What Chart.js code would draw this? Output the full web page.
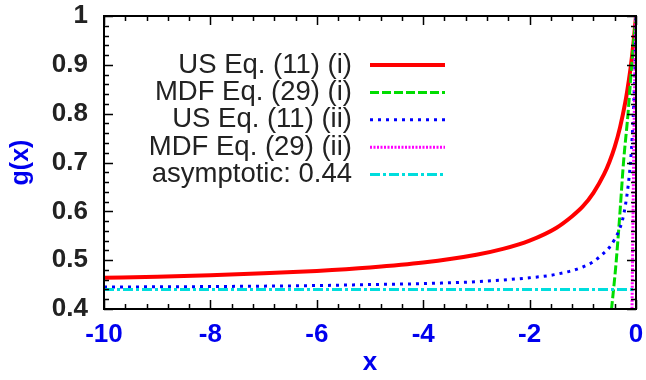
<!DOCTYPE html>
<html>
<head>
<meta charset="utf-8">
<script src="https://cdn.jsdelivr.net/npm/chart.js@4.4.1/dist/chart.umd.min.js"></script>
<style>
  html, body { margin: 0; padding: 0; background: #fff; }
  #wrap { width: 646px; height: 380px; }
</style>
</head>
<body>
<div id="wrap"><canvas id="gChart" width="646" height="380"></canvas></div>
<script>
// tick labels
const xTickVals = [-10, -8, -6, -4, -2, 0];
const xTickLabels = ["-10", "-8", "-6", "-4", "-2", "0"];
const yTickVals = [0.4, 0.5, 0.6, 0.7, 0.8, 0.9, 1.0];
const yTickLabels = ["0.4", "0.5", "0.6", "0.7", "0.8", "0.9", "1"];

// series
const labels = ["US Eq. (11) (i)", "MDF Eq. (29) (i)", "US Eq. (11) (ii)", "MDF Eq. (29) (ii)", "asymptotic: 0.44"];

const usIx = [-10, -9, -8, -7, -6, -5, -4, -3, -2.5, -2, -1.5, -1.2, -1, -0.8, -0.6, -0.5, -0.4, -0.3, -0.2, -0.15, -0.1, -0.05, 0];
const usIy = [0.464, 0.466, 0.469, 0.473, 0.478, 0.485, 0.495, 0.511, 0.523, 0.540, 0.566, 0.590, 0.610, 0.638, 0.676, 0.701, 0.732, 0.772, 0.824, 0.857, 0.895, 0.942, 1.0];

const mdfIx = [-0.56, -0.46, -0.37, -0.30, -0.235, -0.15, -0.08, 0];
const mdfIy = [0.3, 0.4, 0.5, 0.6, 0.7, 0.8, 0.9, 1.0];

const usIIx = [-10, -8, -6, -5, -4, -3, -2, -1.5, -1, -0.8, -0.6, -0.5, -0.4, -0.3, -0.25, -0.2, -0.15, -0.1, -0.07, -0.05, -0.03, -0.015, 0];
const usIIy = [0.445, 0.446, 0.448, 0.450, 0.452, 0.456, 0.464, 0.471, 0.486, 0.497, 0.515, 0.526, 0.543, 0.566, 0.584, 0.612, 0.650, 0.705, 0.755, 0.800, 0.860, 0.920, 1.0];

const mdfIIx = [-0.085, -0.075, -0.065, -0.055, -0.045, -0.033, -0.02, 0];
const mdfIIy = [0.3, 0.4, 0.5, 0.6, 0.7, 0.8, 0.9, 1.0];

const asymX = [-10, 0];
const asymY = [0.44, 0.44];

const toPts = (xs, ys) => xs.map((x, i) => ({ x: x, y: ys[i] }));

const blue = "#0000ee";
const fontFam = '"Liberation Sans", Arial, Helvetica, sans-serif';

// legend drawn like gnuplot: text right aligned, sample to the right
const keyPlugin = {
    id: "gnuKey",
    afterDraw(chart) {
        const ctx = chart.ctx;
        const o = chart.options.plugins.gnuKey;
        ctx.save();
        chart.data.datasets.forEach((ds, i) => {
            const y = o.top + i * o.step;
            ctx.font = o.font;
            ctx.fillStyle = "#222";
            ctx.textAlign = "right";
            ctx.textBaseline = "middle";
            ctx.fillText(ds.label, o.textRight, y);
            ctx.strokeStyle = ds.borderColor;
            ctx.lineWidth = ds.borderWidth;
            ctx.setLineDash(ds.borderDash || []);
            ctx.beginPath();
            ctx.moveTo(o.lineStart, y);
            ctx.lineTo(o.lineEnd, y);
            ctx.stroke();
        });
        ctx.restore();
    }
};

// frame with inward ticks on all sides
const framePlugin = {
    id: "frameTicks",
    afterDatasetsDraw(chart) {
        const ctx = chart.ctx;
        const a = chart.chartArea;
        const xs = chart.scales.x, ys = chart.scales.y;
        ctx.save();
        ctx.strokeStyle = "#000";
        ctx.lineWidth = 1.5;
        ctx.setLineDash([]);
        ctx.beginPath();
        for (let i = 0; i <= 25; i++) {
            const px = Math.round(xs.getPixelForValue(-10 + i * 0.4)) + 0.5;
            const len = (i % 5 === 0) ? 9 : 5;
            ctx.moveTo(px, a.bottom); ctx.lineTo(px, a.bottom - len);
            ctx.moveTo(px, a.top); ctx.lineTo(px, a.top + len);
        }
        for (let i = 0; i <= 30; i++) {
            const py = Math.round(ys.getPixelForValue(0.4 + i * 0.02)) + 0.5;
            const len = (i % 5 === 0) ? 9 : 5;
            ctx.moveTo(a.left, py); ctx.lineTo(a.left + len, py);
            ctx.moveTo(a.right, py); ctx.lineTo(a.right - len, py);
        }
        ctx.stroke();
        ctx.lineWidth = 2;
        ctx.strokeRect(a.left, a.top, a.right - a.left, a.bottom - a.top);
        ctx.restore();
    }
};

const ctx = document.getElementById("gChart").getContext("2d");
new Chart(ctx, {
    type: "line",
    data: {
        datasets: [
            { label: labels[0], data: toPts(usIx, usIy), borderColor: "#ff0000", borderWidth: 4, order: 5 },
            { label: labels[1], data: toPts(mdfIx, mdfIy), borderColor: "#00dd00", borderWidth: 3, borderDash: [9, 3], order: 4 },
            { label: labels[2], data: toPts(usIIx, usIIy), borderColor: "#0000ff", borderWidth: 3, borderDash: [3, 5], order: 3 },
            { label: labels[3], data: toPts(mdfIIx, mdfIIy), borderColor: "#ff00ff", borderWidth: 3, borderDash: [2, 1.5], order: 2 },
            { label: labels[4], data: toPts(asymX, asymY), borderColor: "#00dddd", borderWidth: 3, borderDash: [10, 3, 3, 3], order: 1 }
        ]
    },
    options: {
        responsive: false,
        animation: false,
        cubicInterpolationMode: "monotone",
        elements: { point: { radius: 0 }, line: { fill: false } },
        layout: { padding: { top: 16, right: 10, left: 0, bottom: 0 } },
        plugins: {
            legend: { display: false },
            tooltip: { enabled: false },
            gnuKey: { top: 65, step: 27.4, textRight: 352, lineStart: 370, lineEnd: 445, font: "27.5px " + fontFam }
        },
        scales: {
            x: {
                type: "linear",
                min: -10, max: 0,
                afterBuildTicks: s => { s.ticks = xTickVals.map(v => ({ value: v })); },
                afterFit: s => { s.height = 71; s.paddingLeft = 0; s.paddingRight = 0; },
                grid: { display: false, drawTicks: false },
                border: { display: false },
                ticks: {
                    color: blue, padding: 10,
                    font: { family: fontFam, size: 26, weight: "bold" },
                    callback: (v) => xTickLabels[xTickVals.indexOf(v)],
                    maxRotation: 0
                },
                title: { display: true, text: "x", color: blue, padding: { top: 0, bottom: 2 },
                    font: { family: fontFam, size: 26, weight: "bold" } }
            },
            y: {
                min: 0.4, max: 1,
                afterBuildTicks: s => { s.ticks = yTickVals.map(v => ({ value: v })); },
                afterFit: s => { s.width = 104; s.paddingTop = 0; s.paddingBottom = 0; },
                grid: { display: false, drawTicks: false },
                border: { display: false },
                ticks: {
                    color: "#222", padding: 16,
                    font: { family: fontFam, size: 26, weight: "bold" },
                    callback: (v, i) => yTickLabels[i]
                },
                title: { display: true, text: "g(x)", color: blue, padding: { top: 6, bottom: 0 },
                    font: { family: fontFam, size: 25, weight: "bold" } }
            }
        }
    },
    plugins: [keyPlugin, framePlugin]
});
</script>
</body>
</html>
